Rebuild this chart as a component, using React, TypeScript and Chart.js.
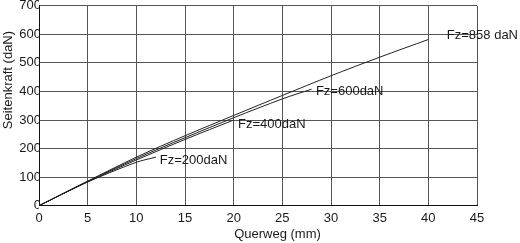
import React, { useEffect, useRef } from "react";
import { Chart, registerables } from "chart.js";

Chart.register(...registerables);

const xTicks = [0, 5, 10, 15, 20, 25, 30, 35, 40, 45];
const yTicks = [0, 100, 200, 300, 400, 500, 600, 700];

const fz200X = [0, 5, 10, 12];
const fz200Y = [0, 83, 152, 170];
const fz400X = [0, 5, 10, 15, 20];
const fz400Y = [0, 84, 160, 232, 300];
const fz600X = [0, 5, 10, 15, 20, 25, 28];
const fz600Y = [0, 85, 165, 238, 308, 374, 408];
const fz858X = [0, 5, 10, 15, 20, 25, 30, 35, 40];
const fz858Y = [0, 86, 170, 245, 316, 386, 455, 520, 582];

const seriesNames = ["Fz=200daN", "Fz=400daN", "Fz=600daN", "Fz=858 daN"];
const labelX = [12.4, 20.45, 28.45, 41.9];
const labelY = [158, 283, 400, 597];

const xTitle = "Querweg (mm)";
const yTitle = "Seitenkraft (daN)";

const FONT = "'Liberation Sans', Arial, sans-serif";

const toPts = (xs: number[], ys: number[]) => xs.map((x, i) => ({ x, y: ys[i] }));

export default function App() {
  const ref = useRef<HTMLCanvasElement | null>(null);
  useEffect(() => {
    if (!ref.current) return;
    const textPlugin = {
      id: "textPlugin",
      afterDraw(chart: any) {
        const { ctx, scales, chartArea } = chart;
        const xs = scales.x;
        const ys = scales.y;
        ctx.save();
        ctx.fillStyle = "#1a1a1a";
        ctx.font = `13px ${FONT}`;
        ctx.textBaseline = "middle";
        ctx.textAlign = "left";
        seriesNames.forEach((n, i) => {
          ctx.fillText(n, xs.getPixelForValue(labelX[i]), ys.getPixelForValue(labelY[i]));
        });
        ctx.textAlign = "center";
        ctx.fillText(xTitle, xs.getPixelForValue(24.5), 234.5);
        ctx.translate(8, ys.getPixelForValue(440));
        ctx.rotate(-Math.PI / 2);
        ctx.fillText(yTitle, 0, 0);
        ctx.restore();
      },
    };
    const ds = (data: any) => ({
      data,
      borderColor: "#222",
      borderWidth: 1,
      pointRadius: 0,
      tension: 0.3,
      fill: false,
    });
    const chart = new Chart(ref.current, {
      type: "line",
      data: {
        datasets: [
          ds(toPts(fz200X, fz200Y)),
          ds(toPts(fz400X, fz400Y)),
          ds(toPts(fz600X, fz600Y)),
          ds(toPts(fz858X, fz858Y)),
        ],
      },
      options: {
        animation: false,
        responsive: false,
        layout: { padding: { left: 0, right: 43, top: 3.4, bottom: 0 } },
        plugins: { legend: { display: false }, tooltip: { enabled: false } },
        scales: {
          x: {
            type: "linear",
            min: 0,
            max: 45,
            afterFit: (s: any) => {
              s.height = 37.3;
            },
            afterBuildTicks: (s: any) => {
              s.ticks = xTicks.map((v) => ({ value: v }));
            },
            ticks: { color: "#1a1a1a", font: { family: FONT, size: 13 }, padding: 5, maxRotation: 0 },
            grid: { color: "#555", drawTicks: false, lineWidth: 1 },
            border: { color: "#111", width: 1 },
          },
          y: {
            type: "linear",
            min: 0,
            max: 700,
            afterFit: (s: any) => {
              s.width = 39;
            },
            afterBuildTicks: (s: any) => {
              s.ticks = yTicks.map((v) => ({ value: v }));
            },
            ticks: { color: "#1a1a1a", font: { family: FONT, size: 13 }, padding: -2 },
            grid: { color: "#555", drawTicks: false, lineWidth: 1 },
            border: { color: "#111", width: 1 },
          },
        },
      },
      plugins: [textPlugin],
    });
    return () => chart.destroy();
  }, []);
  return (
    <div style={{ position: "absolute", left: 0, top: 0, width: 520, height: 243, background: "#fff" }}>
      <canvas ref={ref} width={520} height={243} style={{ width: 520, height: 243 }} />
    </div>
  );
}
